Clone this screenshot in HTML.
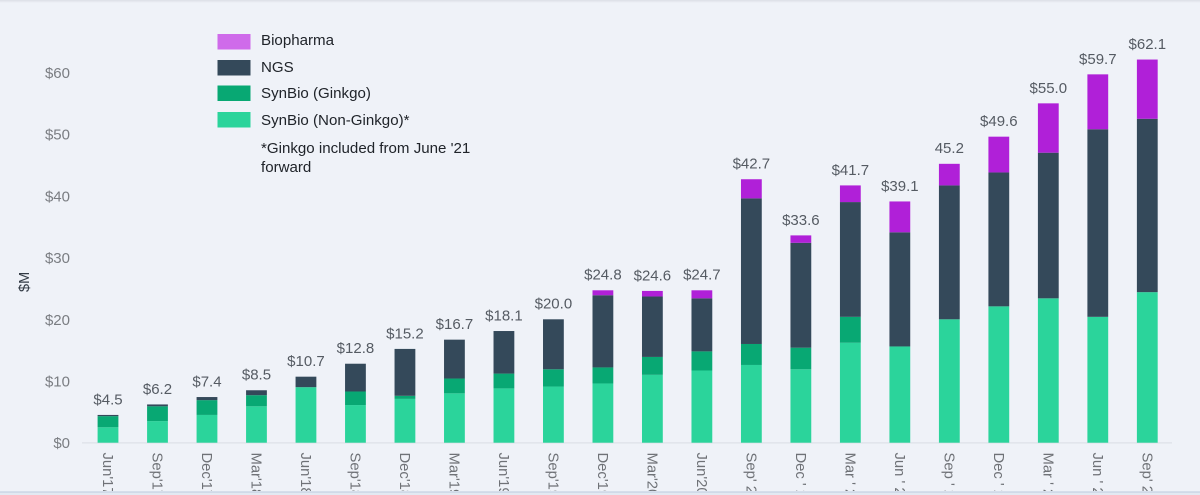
<!DOCTYPE html>
<html lang="en">
<head>
<meta charset="utf-8">
<title>Revenue by segment</title>
<style>
html,body{margin:0;padding:0;width:1200px;height:495px;overflow:hidden;background:#eff2f8}
svg{display:block;font-family:"Liberation Sans",Arial,sans-serif}
</style>
</head>
<body>
<svg id="chart" xmlns="http://www.w3.org/2000/svg" width="1200" height="495" viewBox="0 0 1200 495">
  <defs>
    <linearGradient id="top-shade" x1="0" y1="0" x2="0" y2="1">
      <stop offset="0" stop-color="#dcdfe6"/>
      <stop offset="1" stop-color="#eff2f8"/>
    </linearGradient>
    <clipPath id="x-label-clip"><rect x="0" y="445" width="1200" height="46"/></clipPath>
  </defs>
  <rect x="0" y="0" width="1200" height="495" fill="#eff2f8"/>
  <rect x="0" y="0" width="1200" height="3" fill="url(#top-shade)"/>
  <g id="y-ticks"></g>
  <text transform="translate(29,292) rotate(-90)" font-size="14.5" fill="#333b45">$M</text>
  <line x1="82" y1="442.9" x2="1172" y2="442.9" stroke="#d9dde5" stroke-width="1"/>
  <g id="bars"></g>
  <g id="totals"></g>
  <g id="x-ticks" clip-path="url(#x-label-clip)"></g>
  <g font-size="15.1" fill="#20242a">
    <g>
      <rect x="217.5" y="34" width="33" height="15.5" fill="#cf6bea"/>
      <text x="261" y="45">Biopharma</text>
    </g>
    <g>
      <rect x="217.5" y="60" width="33" height="15.5" fill="#34495a"/>
      <text x="261" y="72">NGS</text>
    </g>
    <g>
      <rect x="217.5" y="85.5" width="33" height="15.5" fill="#08a873"/>
      <text x="261" y="98">SynBio (Ginkgo)</text>
    </g>
    <g>
      <rect x="217.5" y="112" width="33" height="15.5" fill="#2bd49b"/>
      <text x="261" y="125">SynBio (Non-Ginkgo)*</text>
    </g>
    <text x="261" y="153">*Ginkgo included from June '21</text>
    <text x="261" y="172">forward</text>
  </g>
  <rect x="0" y="492" width="1200" height="3" fill="#e3e9f2"/>
  <line x1="0" y1="492" x2="1200" y2="492" stroke="#bccade" stroke-width="1"/>
</svg>
<script>
const categories = ["Jun'17","Sep'17","Dec'17","Mar'18","Jun'18","Sep'18","Dec'18","Mar'19","Jun'19","Sep'19","Dec'19","Mar'20","Jun'20","Sep' 20","Dec ' 20","Mar ' 21","Jun ' 21","Sep ' 21","Dec ' 21","Mar ' 22","Jun ' 22","Sep' 22"];
const nonGinkgo = [2.5,3.5,4.5,5.9,9.0,6.1,7.1,8.0,8.8,9.1,9.6,11.0,11.7,12.6,11.9,16.2,15.6,20.0,22.1,23.4,20.4,24.4];
const ginkgo = [1.8,2.4,2.4,1.8,0,2.2,0.5,2.4,2.4,2.8,2.6,2.9,3.1,3.4,3.5,4.2,0,0,0,0,0,0];
const ngs = [0.2,0.3,0.5,0.8,1.7,4.5,7.6,6.3,6.9,8.1,11.7,9.8,8.6,23.6,17.0,18.6,18.5,21.7,21.7,23.6,30.4,28.1];
const biopharma = [0,0,0,0,0,0,0,0,0,0,0.8,0.9,1.3,3.1,1.2,2.7,5.0,3.5,5.8,8.0,8.9,9.6];
const totalLabels = ["$4.5","$6.2","$7.4","$8.5","$10.7","$12.8","$15.2","$16.7","$18.1","$20.0","$24.8","$24.6","$24.7","$42.7","$33.6","$41.7","$39.1","45.2","$49.6","$55.0","$59.7","$62.1"];
const yTicks = [0,10,20,30,40,50,60];

const NS = 'http://www.w3.org/2000/svg';
const yScale = function (v) { return 442.7 - v * 6.17; };
const xBand = function (i) { return 108 + i * 49.49; };
const BAR_W = 20.8;

const yGroup = document.getElementById('y-ticks');
yTicks.forEach(function (t) {
  const el = document.createElementNS(NS, 'text');
  
  
  el.setAttribute('x', 70);
  el.setAttribute('y', yScale(t) + 5.5);
  el.setAttribute('text-anchor', 'end');
  el.setAttribute('font-size', '15');
  el.setAttribute('fill', '#7a7d82');
  el.textContent = '$' + t;
  yGroup.appendChild(el);
});

const layers = [
  { values: nonGinkgo, color: '#2bd49b', name: 'bar-synbio-non-ginkgo' },
  { values: ginkgo, color: '#08a873', name: 'bar-synbio-ginkgo' },
  { values: ngs, color: '#34495a', name: 'bar-ngs' },
  { values: biopharma, color: '#b020d8', name: 'bar-biopharma' }
];

const barGroup = document.getElementById('bars');
const totalGroup = document.getElementById('totals');
const xGroup = document.getElementById('x-ticks');

categories.forEach(function (cat, i) {
  const cx = xBand(i);
  let cum = 0;
  layers.forEach(function (layer) {
    const v = layer.values[i];
    if (v <= 0) { return; }
    const r = document.createElementNS(NS, 'rect');
    
    
    r.setAttribute('x', cx - BAR_W / 2);
    r.setAttribute('y', yScale(cum + v));
    r.setAttribute('width', BAR_W);
    r.setAttribute('height', yScale(cum) - yScale(cum + v));
    r.setAttribute('fill', layer.color);
    barGroup.appendChild(r);
    cum += v;
  });

  const lab = document.createElementNS(NS, 'text');
  
  
  lab.setAttribute('x', cx);
  lab.setAttribute('y', yScale(cum) - 10.6);
  lab.setAttribute('text-anchor', 'middle');
  lab.setAttribute('font-size', '15');
  lab.setAttribute('fill', '#555b63');
  lab.textContent = totalLabels[i];
  totalGroup.appendChild(lab);

  const tick = document.createElementNS(NS, 'text');
  
  
  tick.setAttribute('transform', 'translate(' + (cx - 5) + ',452.5) rotate(90)');
  tick.setAttribute('font-size', '14.8');
  tick.setAttribute('fill', '#6f7277');
  tick.textContent = cat;
  xGroup.appendChild(tick);
});
</script>
</body>
</html>
